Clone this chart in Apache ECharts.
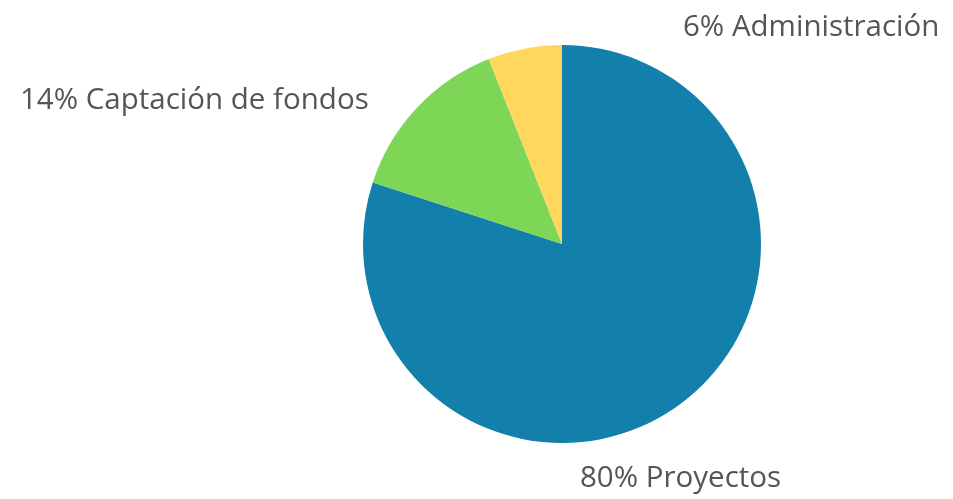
<!DOCTYPE html>
<html>
<head>
<meta charset="utf-8">
<script src="https://cdn.jsdelivr.net/npm/echarts@6/dist/echarts.min.js"></script>
<style>
  html, body { margin: 0; padding: 0; background: #fff; }
  #chart { width: 953px; height: 499px; }
</style>
</head>
<body>
<div id="chart"></div>
<script>
// Categories and shares (percent), clockwise from 12 o'clock
var categories = ['Proyectos', 'Captación de fondos', 'Administración'];
var shares = [80, 14, 6];
var colors = ['#137fab', '#7ed657', '#ffd75c'];

// where each label sits (left edge, vertical middle)
var labelSpots = [
    { x: 580, y: 479 },
    { x: 20, y: 101 },
    { x: 683, y: 28 }
];

var chart = echarts.init(document.getElementById('chart'));

chart.setOption({
    animation: false,
    series: [{
        type: 'pie',
        center: [562, 244],
        radius: 199,
        startAngle: 90,
        clockwise: true,
        data: categories.map(function (name, i) {
            return { name: name, value: shares[i], itemStyle: { color: colors[i] } };
        }),
        label: {
            show: true,
            formatter: function (p) { return p.value + '% ' + p.name; },
            color: '#555555',
            fontFamily: 'Open Sans',
            fontSize: 29.5,
            align: 'left',
            verticalAlign: 'middle'
        },
        labelLine: { show: false },
        labelLayout: function (params) {
            var s = labelSpots[params.dataIndex];
            return { x: s.x, y: s.y, align: 'left', verticalAlign: 'middle' };
        },
        emphasis: { disabled: true }
    }]
});
</script>
</body>
</html>
